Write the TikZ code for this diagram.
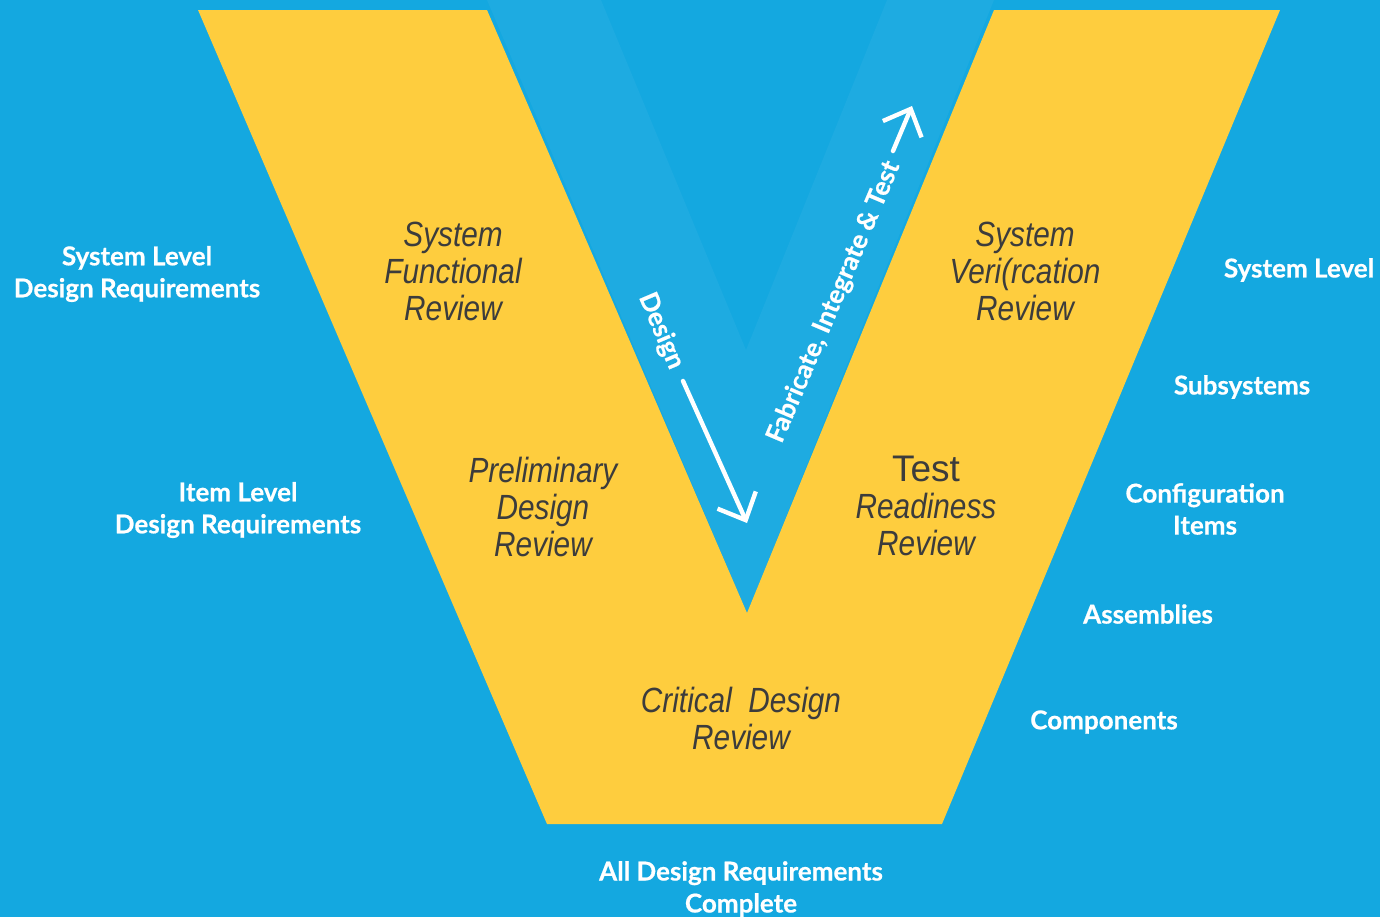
\documentclass[tikz,border=0pt]{standalone}
\usepackage{fontspec}
\setmainfont{Liberation Sans}
\newfontfamily\reviewfont[FakeStretch=0.85]{Liberation Sans}
\newfontfamily\latofont{Lato}[BoldFeatures={FakeBold=0.6}]
\usetikzlibrary{arrows.meta}
\definecolor{vblue}{RGB}{20,168,224}
\definecolor{vbluelight}{RGB}{30,171,225}
\definecolor{vyellow}{RGB}{254,205,62}
\definecolor{vgray}{RGB}{60,60,60}
\tikzstyle{review}=[text=vgray, align=center, inner sep=0pt, font=\reviewfont\itshape\fontsize{17.5}{18.5}\selectfont]
\tikzstyle{level}=[text=white, align=center, inner sep=0pt, font=\latofont\bfseries\fontsize{13}{16}\selectfont]
\tikzset{flow/.style={text=white, inner sep=0pt, font=\latofont\bfseries\fontsize{13}{16}\selectfont},
  flowarrow/.style={white, line width=2.2pt, line cap=round,
      -{Straight Barb[length=11pt,width=21pt,line width=2.2pt]}}}

\begin{document}
\begin{tikzpicture}[x=0.5pt,y=-0.5pt]
    \useasboundingbox (0,0) rectangle (1380,917);
    \fill[vblue] (0,0) rectangle (1380,917);
    \fill[vbluelight] (487,0) -- (601,0) -- (746,350) -- (887,0) -- (994,0) -- (747,613) -- cycle;
    \fill[vyellow] (198,10) -- (487,10) -- (747,613) -- (994,10) -- (1280,10)
        -- (942,824) -- (547,824) -- cycle;

    \node[review] (sfr) at (453,271) {System\\Functional\\Review};
    \node[review] (pdr) at (543,507) {Preliminary\\Design\\Review};
    \node[review] (svr) at (1025,271) {System\\Veri(rcation\\Review};
    \node[review] (trr) at (926,506) {{\normalfont\fontsize{18.5}{18.5}\selectfont Test}\\Readiness\\Review};
    \node[review] (cdr) at (741,718) {Critical\ \ Design\\Review};

    \node[level] (sysreq) at (137,274) {System Level\\Design Requirements};
    \node[level] (itemreq) at (238,510) {Item Level\\Design Requirements};
    \node[level] (syslevel) at (1299,270) {System Level};
    \node[level] (subsys) at (1242,387) {Subsystems};
    \node[level] (config) at (1205,509) {Configuration\\Items};
    \node[level] (assemb) at (1148,614) {Assemblies};
    \node[level] (comp) at (1104,722) {Components};
    \node[level] (allreq) at (741,889) {All Design Requirements\\Complete};

    \node[flow, rotate=-67] (designlbl) at (661,331) {Design};
    \node[flow, rotate=67] (fitlbl) at (834,302) {Fabricate, Integrate \& Test};

    \coordinate (dstart) at (683,381);
    \coordinate (dend) at (747,523);
    \coordinate (fstart) at (893,151);
    \coordinate (fend) at (912,106);
    \draw[flowarrow] (dstart) -- (dend);
    \draw[flowarrow] (fstart) -- (fend);
\end{tikzpicture}
\end{document}
